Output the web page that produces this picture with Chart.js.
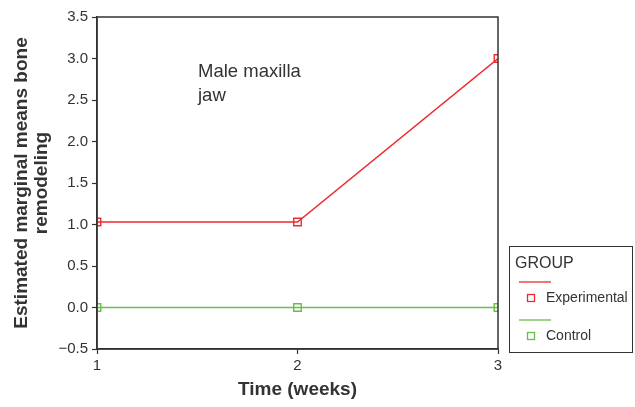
<!DOCTYPE html>
<html lang="en">
<head>
<meta charset="UTF-8">
<title>Male maxilla jaw</title>
<script src="https://cdn.jsdelivr.net/npm/chart.js"></script>
<style>
    html, body { margin: 0; padding: 0; background: #fff; }
    #wrap { width: 635px; height: 407px; }
</style>
</head>
<body>
<div id="wrap"><canvas id="chart"></canvas></div>
<script>
    // data
    const weeks = [1, 2, 3];
    const groups = ['Experimental', 'Control'];
    const experimental = [1.03, 1.03, 3.0];
    const control = [0, 0, 0];
    const yTicks = [-0.5, 0, 0.5, 1, 1.5, 2, 2.5, 3, 3.5];

    const RED = '#ee2a2e';
    const GREEN = '#6cbd47';
    const INK = '#333333';
    const FONT = '"Liberation Sans", Arial, sans-serif';

    function toPoints(vals) {
        return weeks.map((w, i) => ({ x: w, y: vals[i] }));
    }

    // frame, note and the GROUP legend box
    const extras = {
        id: 'extras',
        afterDraw(chart) {
            const ctx = chart.ctx;
            const a = chart.chartArea;
            ctx.save();
            ctx.strokeStyle = INK;
            ctx.lineWidth = 1.5;
            ctx.strokeRect(a.left, a.top, a.right - a.left, a.bottom - a.top);

            ctx.fillStyle = INK;
            ctx.font = '18.5px ' + FONT;
            ctx.textBaseline = 'middle';
            ctx.fillText('Male maxilla', 198, 72);
            ctx.fillText('jaw', 198, 96);

            // legend
            ctx.lineWidth = 1;
            ctx.strokeRect(509.5, 246.5, 123, 106);
            ctx.font = '16px ' + FONT;
            ctx.fillText('GROUP', 515, 264);
            ctx.font = '14px ' + FONT;
            chart.data.datasets.forEach((ds, i) => {
                const y0 = 282 + i * 38;
                ctx.strokeStyle = ds.borderColor;
                ctx.lineWidth = 1.3;
                ctx.beginPath();
                ctx.moveTo(519, y0);
                ctx.lineTo(551, y0);
                ctx.stroke();
                ctx.strokeRect(527.5, y0 + 12.5, 7, 7);
                ctx.fillStyle = INK;
                ctx.fillText(ds.label, 546, y0 + 16);
            });
            ctx.restore();
        }
    };

    new Chart(document.getElementById('chart'), {
        type: 'line',
        data: {
            datasets: [
                {
                    label: groups[0],
                    data: toPoints(experimental),
                    borderColor: RED,
                    backgroundColor: 'rgba(0,0,0,0)',
                    borderWidth: 1.5,
                    pointStyle: 'rect',
                    pointRadius: 5.3,
                    pointBorderWidth: 1.4,
                    pointBackgroundColor: 'rgba(0,0,0,0)'
                },
                {
                    label: groups[1],
                    data: toPoints(control),
                    borderColor: GREEN,
                    backgroundColor: 'rgba(0,0,0,0)',
                    borderWidth: 1.5,
                    pointStyle: 'rect',
                    pointRadius: 5.3,
                    pointBorderWidth: 1.4,
                    pointBackgroundColor: 'rgba(0,0,0,0)'
                }
            ]
        },
        options: {
            responsive: true,
            maintainAspectRatio: false,
            animation: false,
            layout: { padding: { left: 0, right: 137, top: 17, bottom: 0 } },
            plugins: {
                legend: { display: false },
                tooltip: { enabled: false }
            },
            scales: {
                x: {
                    type: 'linear',
                    min: 1,
                    max: 3,
                    afterFit(scale) { scale.height = 58; },
                    afterBuildTicks(scale) { scale.ticks = weeks.map(v => ({ value: v })); },
                    grid: { drawOnChartArea: false, color: INK, tickLength: 5, tickWidth: 1.2 },
                    border: { display: true, color: INK, width: 1.5 },
                    ticks: { color: INK, font: { family: FONT, size: 15 }, padding: 3 },
                    title: {
                        display: true,
                        text: 'Time (weeks)',
                        color: INK,
                        font: { family: FONT, size: 19, weight: 'bold' },
                        padding: { top: 0, bottom: 6 }
                    }
                },
                y: {
                    min: -0.5,
                    max: 3.5,
                    afterFit(scale) { scale.width = 97; },
                    afterBuildTicks(scale) { scale.ticks = yTicks.map(v => ({ value: v })); },
                    grid: { drawOnChartArea: false, color: INK, tickLength: 5, tickWidth: 1.2 },
                    border: { display: true, color: INK, width: 1.5 },
                    ticks: {
                        color: INK,
                        font: { family: FONT, size: 15 },
                        padding: 4,
                        callback: v => (v < 0 ? '\u2212' : '') + Math.abs(v).toFixed(1)
                    },
                    title: {
                        display: true,
                        text: ['Estimated marginal means bone', 'remodeling'],
                        color: INK,
                        font: { family: FONT, size: 19, weight: 'bold', lineHeight: 1.05 },
                        padding: { top: 12, bottom: 0 }
                    }
                }
            }
        },
        plugins: [extras]
    });
</script>
</body>
</html>
